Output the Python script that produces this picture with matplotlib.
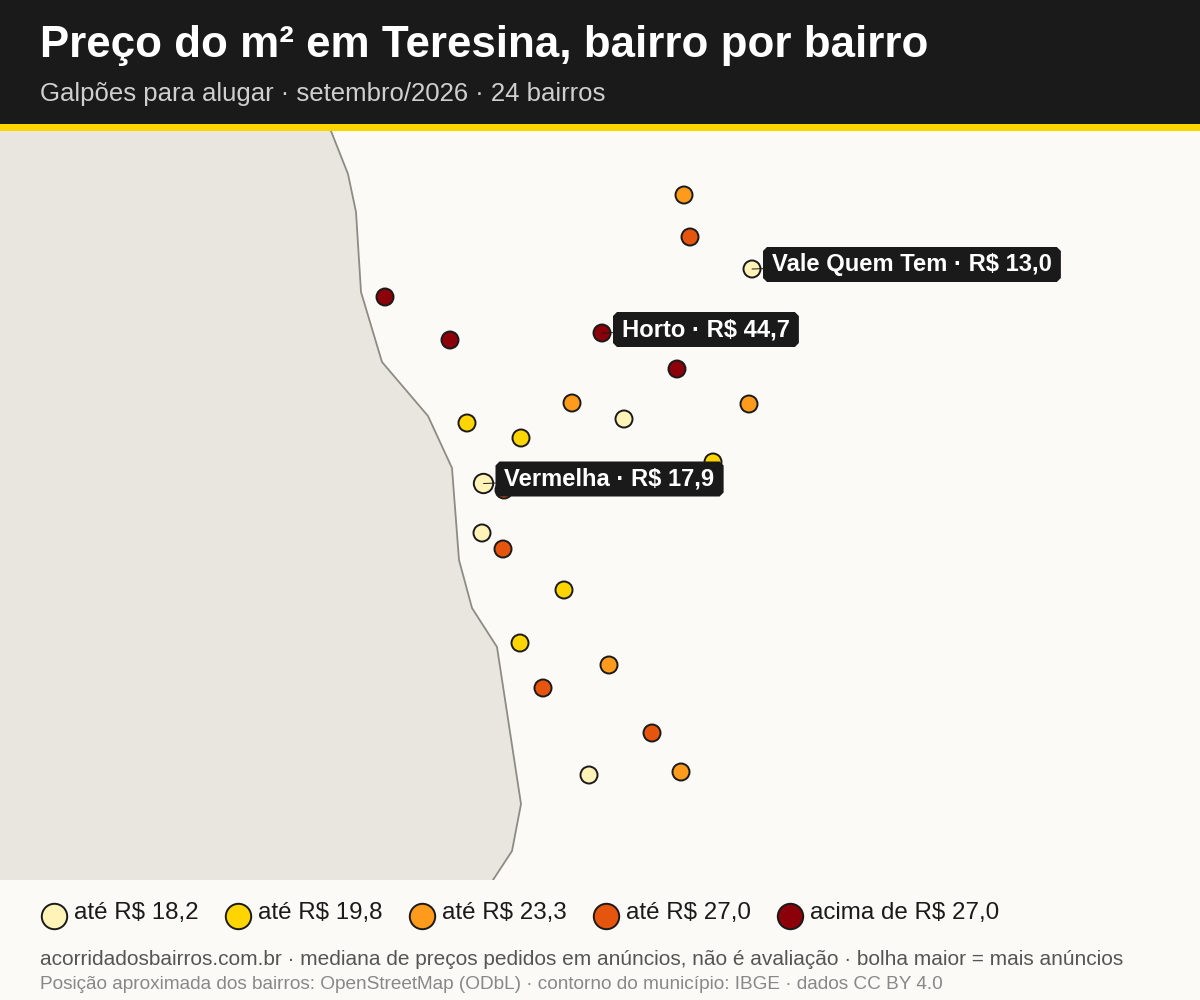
import matplotlib
matplotlib.use("Agg")
import matplotlib.pyplot as plt
from matplotlib.patches import Polygon, Rectangle
from matplotlib.path import Path

plt.rcParams['font.family'] = ['Liberation Sans', 'DejaVu Sans']

TITLE = "Preço do m² em Teresina, bairro por bairro"
SUBTITLE = "Galpões para alugar · setembro/2026 · 24 bairros"
FOOT1 = "acorridadosbairros.com.br · mediana de preços pedidos em anúncios, não é avaliação · bolha maior = mais anúncios"
FOOT2 = "Posição aproximada dos bairros: OpenStreetMap (ODbL) · contorno do município: IBGE · dados CC BY 4.0"

BIN_LABELS = ["até R$ 18,2", "até R$ 19,8", "até R$ 23,3", "até R$ 27,0", "acima de R$ 27,0"]
BIN_COLORS = ["#FFF3B8", "#FFD500", "#FE9A1C", "#E6550D", "#8B0009"]

# map position of each neighbourhood, colour bin, bubble area
map_x = [684, 690, 752, 385, 450, 602, 677, 572, 624, 749, 467, 521, 713, 483.5, 504, 482, 503, 564, 520, 609, 543, 652, 589, 681]
map_y = [195, 237, 269, 297, 340, 333, 369, 403, 419, 404, 423, 438, 462, 483.5, 490, 533, 549, 590, 643, 665, 688, 733, 775, 772]
bins  = [2, 3, 0, 4, 4, 4, 4, 2, 0, 2, 1, 1, 1, 0, 3, 0, 3, 1, 1, 2, 3, 3, 0, 2]
areas = [150, 150, 150, 150, 150, 150, 150, 150, 150, 150, 150, 150, 150, 195, 150, 150, 150, 150, 150, 150, 150, 150, 150, 150]

# municipal boundary (river side)
border_x = [331, 348, 356, 361, 382, 428, 452, 459, 472, 497, 521, 512, 493]
border_y = [131, 174, 212, 292, 362, 416, 468, 560, 608, 647, 804, 851, 880]

label_texts = ["Vale Quem Tem · R$ 13,0", "Horto · R$ 44,7", "Vermelha · R$ 17,9"]
label_idx = [2, 5, 13]
label_dx = [20, 20, 21]
label_dy = [-4.5, -3.5, -4.5]

BG = "#FCFAF6"
LAND = "#E9E6E0"
DARK = "#1A1A1A"


def tag_box(x0, y0, w, h, mutation_size):
    """Label plate: wider side padding than top/bottom, small clipped corners."""
    px, py, c = 9.0, 6.0, 4.0
    l, r, b, t = x0 - px, x0 + w + px, y0 - py, y0 + h + py
    verts = [(l + c, b), (r - c, b), (r, b + c), (r, t - c), (r - c, t),
             (l + c, t), (l, t - c), (l, b + c), (l + c, b)]
    return Path(verts, closed=True)


fig = plt.figure(figsize=(12, 10), dpi=100, facecolor=BG)

# map
ax = fig.add_axes([0, 0.12, 1, 0.749])
ax.set_xlim(0, 1200)
ax.set_ylim(880, 131)
ax.axis("off")
outside = list(zip(border_x, border_y)) + [(0, 880), (0, 131)]
ax.add_patch(Polygon(outside, closed=True, fc=LAND, ec="none", zorder=1))
ax.plot(border_x, border_y, color="#8C8C84", lw=1.3, zorder=2)
ax.scatter(map_x, map_y, s=areas, c=[BIN_COLORS[b] for b in bins],
           edgecolors=DARK, linewidths=1.4, zorder=3)

for txt, i, dx, dy in zip(label_texts, label_idx, label_dx, label_dy):
    ax.annotate(txt, xy=(map_x[i], map_y[i]),
                xytext=(map_x[i] + dx, map_y[i] + dy), textcoords="data",
                ha="left", va="center", fontsize=17.1, fontweight="bold", color="white",
                bbox=dict(boxstyle=tag_box, fc=DARK, ec="none"),
                arrowprops=dict(arrowstyle="-", color=DARK, lw=0.7, shrinkA=0, shrinkB=0),
                zorder=5)

# header
hd = fig.add_axes([0, 0.869, 1, 0.131])
hd.set_xlim(0, 1200)
hd.set_ylim(131, 0)
hd.axis("off")
hd.add_patch(Rectangle((0, 0), 1200, 124, fc=DARK, ec="none"))
hd.add_patch(Rectangle((0, 124), 1200, 7, fc="#FFD500", ec="none"))
hd.text(40, 45, TITLE, color="white", fontsize=31.6, fontweight="bold", va="center", ha="left")
hd.text(40, 94, SUBTITLE, color="#CFCFCF", fontsize=18.55, va="center", ha="left")

# legend strip
lg = fig.add_axes([0, 0, 1, 0.12])
lg.set_xlim(0, 1200)
lg.set_ylim(1000, 880)
lg.axis("off")
for k, (lab, col) in enumerate(zip(BIN_LABELS, BIN_COLORS)):
    lg.scatter([53.5 + 184 * k], [916], s=335, c=col, edgecolors=DARK, linewidths=1.4, clip_on=False)
    lg.text(74 + 184 * k, 913, lab, fontsize=17.4, color=DARK, va="center", ha="left")

# footer
lg.text(40, 959.5, FOOT1, color="#555555", fontsize=15.07, va="center", ha="left")
lg.text(40, 984.5, FOOT2, color="#888888", fontsize=13.72, va="center", ha="left")

fig.savefig("out.png", dpi=100, facecolor=BG)
